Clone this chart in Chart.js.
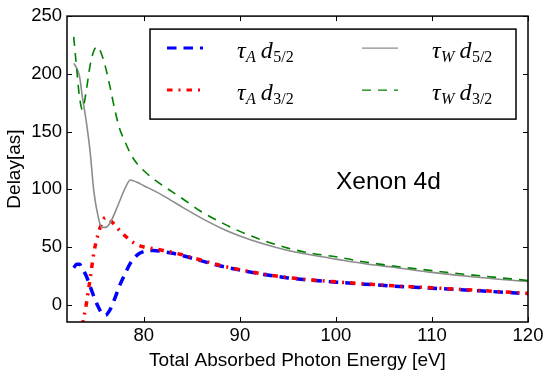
<!DOCTYPE html>
<html>
<head>
<meta charset="utf-8">
<script src="https://cdn.jsdelivr.net/npm/chart.js@4.4.1/dist/chart.umd.min.js"></script>
<style>
  html, body { margin: 0; padding: 0; background: #fff; }
  #delayChart { display: block; }
</style>
</head>
<body>
<canvas id="delayChart" width="550" height="376"></canvas>
<script>
// photon energy grid [eV]
var energy = [72.7, 73.0, 73.3, 73.6, 74.0, 74.4, 74.8, 75.2, 75.6, 76.0, 76.5, 77.0, 77.5, 78.0, 78.6, 79.3,
  80, 81, 82, 83, 84, 86, 88, 90, 92.5, 95, 97.5, 100, 103, 106, 110, 115, 120];

// delays [as]
var tauA_d52 = [32, 35, 35, 31, 25, 16, 7, -1, -7, -9, -4, 6, 17, 26, 36, 43,
  46, 47, 46, 44.5, 42.5, 38, 33.5, 30, 26.2, 23.2, 21.2, 19.5, 17.8, 16.1, 14.3, 12, 9.5];
var tauA_d32 = [null, null, -35, -18, 0, 22, 45, 60, 70, 75.5, 73, 69, 64, 60, 55.5, 52,
  50, 48.5, 47, 45.3, 43.2, 38.5, 34, 30.3, 26.5, 23.5, 21.4, 19.8, 18.1, 16.4, 14.6, 12.3, 9.8];
var tauW_d52 = [209, 205, 198, 180, 159, 133, 98, 78, 67, 67, 71, 80, 90, 100, 108, 106,
  103, 99, 94.5, 89.5, 84.5, 75, 66.5, 59.5, 52.5, 47, 43, 39.5, 35.5, 32.4, 28, 23.5, 20];
var tauW_d32 = [232, 205, 180, 169, 185, 207, 220, 223.5, 217, 206, 188, 168, 152, 142, 131, 122,
  116, 109, 103, 97.5, 92, 80.5, 71.5, 63.5, 55.5, 49, 44.5, 41.5, 37, 33.5, 29.5, 25, 21];

var xTicks = [80, 90, 100, 110, 120];
var yTicks = [0, 50, 100, 150, 200, 250];

// legend: tau subscript + orbital
var legendSub = ['A', 'A', 'W', 'W'];
var legendOrb = ['5/2', '3/2', '5/2', '3/2'];

var noteText = 'Xenon 4d';
var noteX = 100;
var noteY = 100;

function toPoints(ys) {
  var pts = [];
  for (var i = 0; i < energy.length; i++) {
    pts.push({ x: energy[i], y: ys[i] });
  }
  return pts;
}

var seriesStyle = [
  { color: '#0000ff', width: 3.5, dash: [9.5, 7] },
  { color: '#ff0000', width: 3.5, dash: [5.5, 6, 2, 6] },
  { color: '#8c8c8c', width: 1.6, dash: [] },
  { color: '#008000', width: 1.6, dash: [9, 7] }
];
var seriesData = [tauA_d52, tauA_d32, tauW_d52, tauW_d32];

var datasets = [];
for (var k = 0; k < seriesData.length; k++) {
  datasets.push({
    data: toPoints(seriesData[k]),
    borderColor: seriesStyle[k].color,
    borderWidth: seriesStyle[k].width,
    borderDash: seriesStyle[k].dash,
    pointRadius: 0,
    cubicInterpolationMode: 'monotone',
    spanGaps: false,
    fill: false,
    order: 4 - k
  });
}

function drawLegendLabel(ctx, x, y, sub, orb) {
  ctx.fillStyle = '#000';
  ctx.textBaseline = 'alphabetic';
  ctx.textAlign = 'left';
  ctx.font = 'italic 24px "Liberation Serif"';
  ctx.fillText('τ', x, y);
  x += ctx.measureText('τ').width + 0.5;
  ctx.font = 'italic 16px "Liberation Serif"';
  ctx.fillText(sub, x, y + 4);
  x += ctx.measureText(sub).width + 5;
  ctx.font = 'italic 24px "Liberation Serif"';
  ctx.fillText('d', x, y);
  x += ctx.measureText('d').width + 0.5;
  ctx.font = '16px "Liberation Serif"';
  ctx.fillText(orb, x, y + 4);
}

var decorPlugin = {
  id: 'decor',
  afterDatasetsDraw: function(chart) {
    var ctx = chart.ctx;
    var a = chart.chartArea;
    var xs = chart.scales.x;
    var ys = chart.scales.y;
    ctx.save();

    // annotation
    ctx.fillStyle = '#000';
    ctx.font = '24.5px "Liberation Sans"';
    ctx.textAlign = 'left';
    ctx.textBaseline = 'alphabetic';
    ctx.fillText(noteText, xs.getPixelForValue(noteX), ys.getPixelForValue(noteY));

    // legend box
    var bx = a.left + 83, by = a.top + 13, bw = 366, bh = 90;
    ctx.fillStyle = '#fff';
    ctx.fillRect(bx, by, bw, bh);
    ctx.strokeStyle = '#000';
    ctx.lineWidth = 1.5;
    ctx.setLineDash([]);
    ctx.strokeRect(bx, by, bw, bh);

    for (var i = 0; i < 4; i++) {
      var col = Math.floor(i / 2), row = i % 2;
      var lx = bx + 17 + col * 195;
      var ly = by + 19 + row * 42;
      var st = seriesStyle[i];
      ctx.strokeStyle = st.color;
      ctx.lineWidth = st.width - 0.5;
      ctx.setLineDash(st.dash);
      ctx.beginPath();
      ctx.moveTo(lx, ly);
      ctx.lineTo(lx + 36, ly);
      ctx.stroke();
      ctx.setLineDash([]);
      drawLegendLabel(ctx, lx + 70, ly + 10, legendSub[i], legendOrb[i]);
    }

    // frame and inward ticks
    ctx.strokeStyle = '#000';
    ctx.lineWidth = 1.5;
    ctx.setLineDash([]);
    ctx.strokeRect(a.left, a.top, a.right - a.left, a.bottom - a.top);
    ctx.lineWidth = 1;
    ctx.beginPath();
    xs.ticks.forEach(function(t) {
      var px = Math.round(xs.getPixelForValue(t.value)) + 0.5;
      ctx.moveTo(px, a.bottom); ctx.lineTo(px, a.bottom - 5);
      ctx.moveTo(px, a.top); ctx.lineTo(px, a.top + 5);
    });
    ys.ticks.forEach(function(t) {
      var py = Math.round(ys.getPixelForValue(t.value)) + 0.5;
      ctx.moveTo(a.left, py); ctx.lineTo(a.left + 5, py);
      ctx.moveTo(a.right, py); ctx.lineTo(a.right - 5, py);
    });
    ctx.stroke();
    ctx.restore();
  }
};

var tickFont = { family: '"Liberation Sans", Arial, sans-serif', size: 18.5 };
var titleFont = { family: '"Liberation Sans", Arial, sans-serif', size: 19 };

new Chart(document.getElementById('delayChart'), {
  type: 'line',
  data: { datasets: datasets },
  options: {
    responsive: false,
    animation: false,
    devicePixelRatio: 1,
    layout: { padding: { left: 0, right: 22, top: 14, bottom: 0 } },
    plugins: { legend: { display: false }, tooltip: { enabled: false } },
    scales: {
      x: {
        type: 'linear',
        min: 72,
        max: 120,
        afterBuildTicks: function(s) { s.ticks = xTicks.map(function(v) { return { value: v }; }); },
        afterFit: function(s) { s.height = 54; },
        grid: { display: false, drawTicks: false },
        border: { display: false },
        ticks: { font: tickFont, color: '#000', padding: 3, maxRotation: 0, autoSkip: false },
        title: { display: true, text: 'Total Absorbed Photon Energy [eV]', font: titleFont, color: '#000', padding: { top: 0, bottom: 4 } }
      },
      y: {
        type: 'linear',
        min: -15,
        max: 250,
        afterBuildTicks: function(s) { s.ticks = yTicks.map(function(v) { return { value: v }; }); },
        afterFit: function(s) { s.width = 67; },
        grid: { display: false, drawTicks: false },
        border: { display: false },
        ticks: { font: tickFont, color: '#000', padding: 5 },
        title: { display: true, text: 'Delay[as]', font: titleFont, color: '#000', padding: { top: 3, bottom: 0 } }
      }
    }
  },
  plugins: [decorPlugin]
});
</script>
</body>
</html>
